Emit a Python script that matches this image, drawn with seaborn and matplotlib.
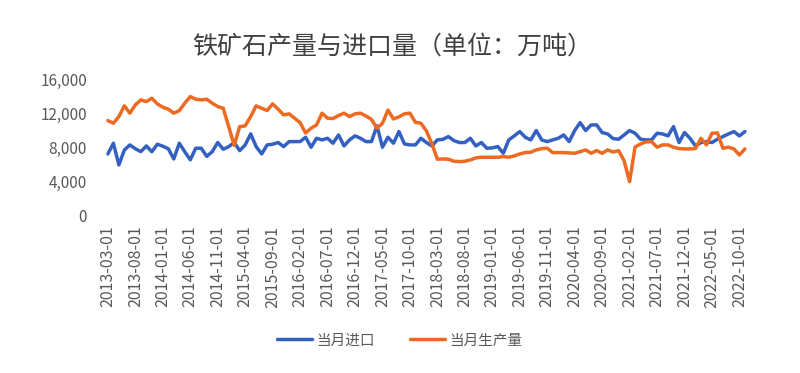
import pandas as pd
import matplotlib
matplotlib.use("Agg")
import matplotlib.pyplot as plt
import seaborn as sns

# === Data (万吨), monthly from 2013-03 ===
months = pd.date_range("2013-03-01", periods=117, freq="MS").strftime("%Y-%m-%d").tolist()

imports = [
    7290, 8550, 6000, 7750, 8350, 7900, 7560, 8230, 7550, 8430,
    8200, 7900, 6700, 8550, 7550, 6600, 7960, 7960, 7000, 7560,
    8630, 7840, 8150, 8630, 7680, 8350, 9640, 8150, 7290, 8350,
    8430, 8630, 8150, 8740, 8740, 8740, 9250, 8080, 9130, 8940,
    9130, 8550, 9520, 8230, 8940, 9410, 9130, 8740, 8740, 10600,
    8080, 9250, 8550, 9920, 8470, 8350, 8350, 9130, 8630, 8230,
    8940, 9000, 9330, 8860, 8630, 8630, 9130, 8230, 8630, 7960,
    8000, 8150, 7370, 8940, 9410, 9920, 9250, 8940, 10040, 8940,
    8740, 8940, 9130, 9520, 8740, 10040, 10970, 10040, 10700, 10700,
    9800, 9640, 9090, 9020, 9520, 10040, 9720, 9020, 8940, 8940,
    9720, 9640, 9410, 10500, 8630, 9800, 9130, 8230, 8630, 8740,
    8630, 9020, 9330, 9640, 9920, 9410, 9920,
]

production = [
    11210, 10900, 11680, 12940, 12080, 13050, 13640, 13440, 13840, 13170,
    12780, 12550, 12080, 12380, 13250, 14030, 13720, 13640, 13720, 13250,
    12860, 12660, 10500, 8300, 10500, 10590, 11680, 12940, 12660, 12390,
    13170, 12550, 11880, 12000, 11490, 10970, 9750, 10310, 10700, 12080,
    11490, 11450, 11800, 12080, 11680, 12000, 12080, 11750, 11350, 10300,
    10900, 12450, 11400, 11650, 12000, 12080, 11000, 10900, 10000, 8500,
    6670, 6700, 6670, 6430, 6390, 6430, 6590, 6820, 6900, 6900,
    6900, 6900, 6980, 6900, 7060, 7290, 7450, 7490, 7760, 7920,
    7960, 7450, 7450, 7450, 7410, 7370, 7560, 7760, 7370, 7680,
    7370, 7760, 7520, 7680, 6500, 4040, 8100, 8470, 8700, 8740,
    8080, 8350, 8350, 8080, 7920, 7880, 7880, 7920, 9130, 8350,
    9720, 9760, 7960, 8080, 7880, 7170, 7880,
]

series_names = ["当月进口", "当月生产量"]
colors = ["#3461C1", "#EC6A22"]
y_ticks = [0, 4000, 8000, 12000, 16000]

df = pd.DataFrame({"idx": range(len(months)), "date": months,
                   series_names[0]: imports, series_names[1]: production})
long_df = df.melt(id_vars=["idx", "date"], value_vars=series_names,
                  var_name="series", value_name="value")

# === Plot ===
sns.set_style("white")
plt.rcParams["font.family"] = ["Noto Sans CJK SC", "DejaVu Sans"]

fig = plt.figure(figsize=(8, 3.73), dpi=100)
ax = fig.add_axes([0.128, 0.421, 0.81, 0.365])

sns.lineplot(data=long_df, x="idx", y="value", hue="series", hue_order=series_names,
             palette=colors, linewidth=2.5, ax=ax, legend=True)

ax.set_xlim(-1, len(months))
ax.set_ylim(0, 16000)
ax.set_yticks(y_ticks)
ax.set_yticklabels([f"{v:,}" for v in y_ticks], fontsize=11, color="#595959")

tick_idx = list(range(0, len(months), 5))
ax.set_xticks(tick_idx)
ax.set_xticklabels([months[i] for i in tick_idx], rotation=90, fontsize=11.5, color="#595959")
ax.tick_params(axis="x", length=0, pad=7)
ax.tick_params(axis="y", length=0, pad=11)
ax.set_xlabel("")
ax.set_ylabel("")
sns.despine(ax=ax, left=True, bottom=True)

handles, labels = ax.get_legend_handles_labels()
ax.get_legend().remove()
fig.legend(handles, labels, loc="center", bbox_to_anchor=(0.5, 0.087), ncol=2, frameon=False,
           fontsize=10.5, handlelength=2.4, handletextpad=0.3, columnspacing=2.4,
           labelcolor="#595959")

fig.suptitle("铁矿石产量与进口量（单位：万吨）", x=0.49, y=0.91, fontsize=18, color="#404040")

plt.savefig("out.png", dpi=100)
